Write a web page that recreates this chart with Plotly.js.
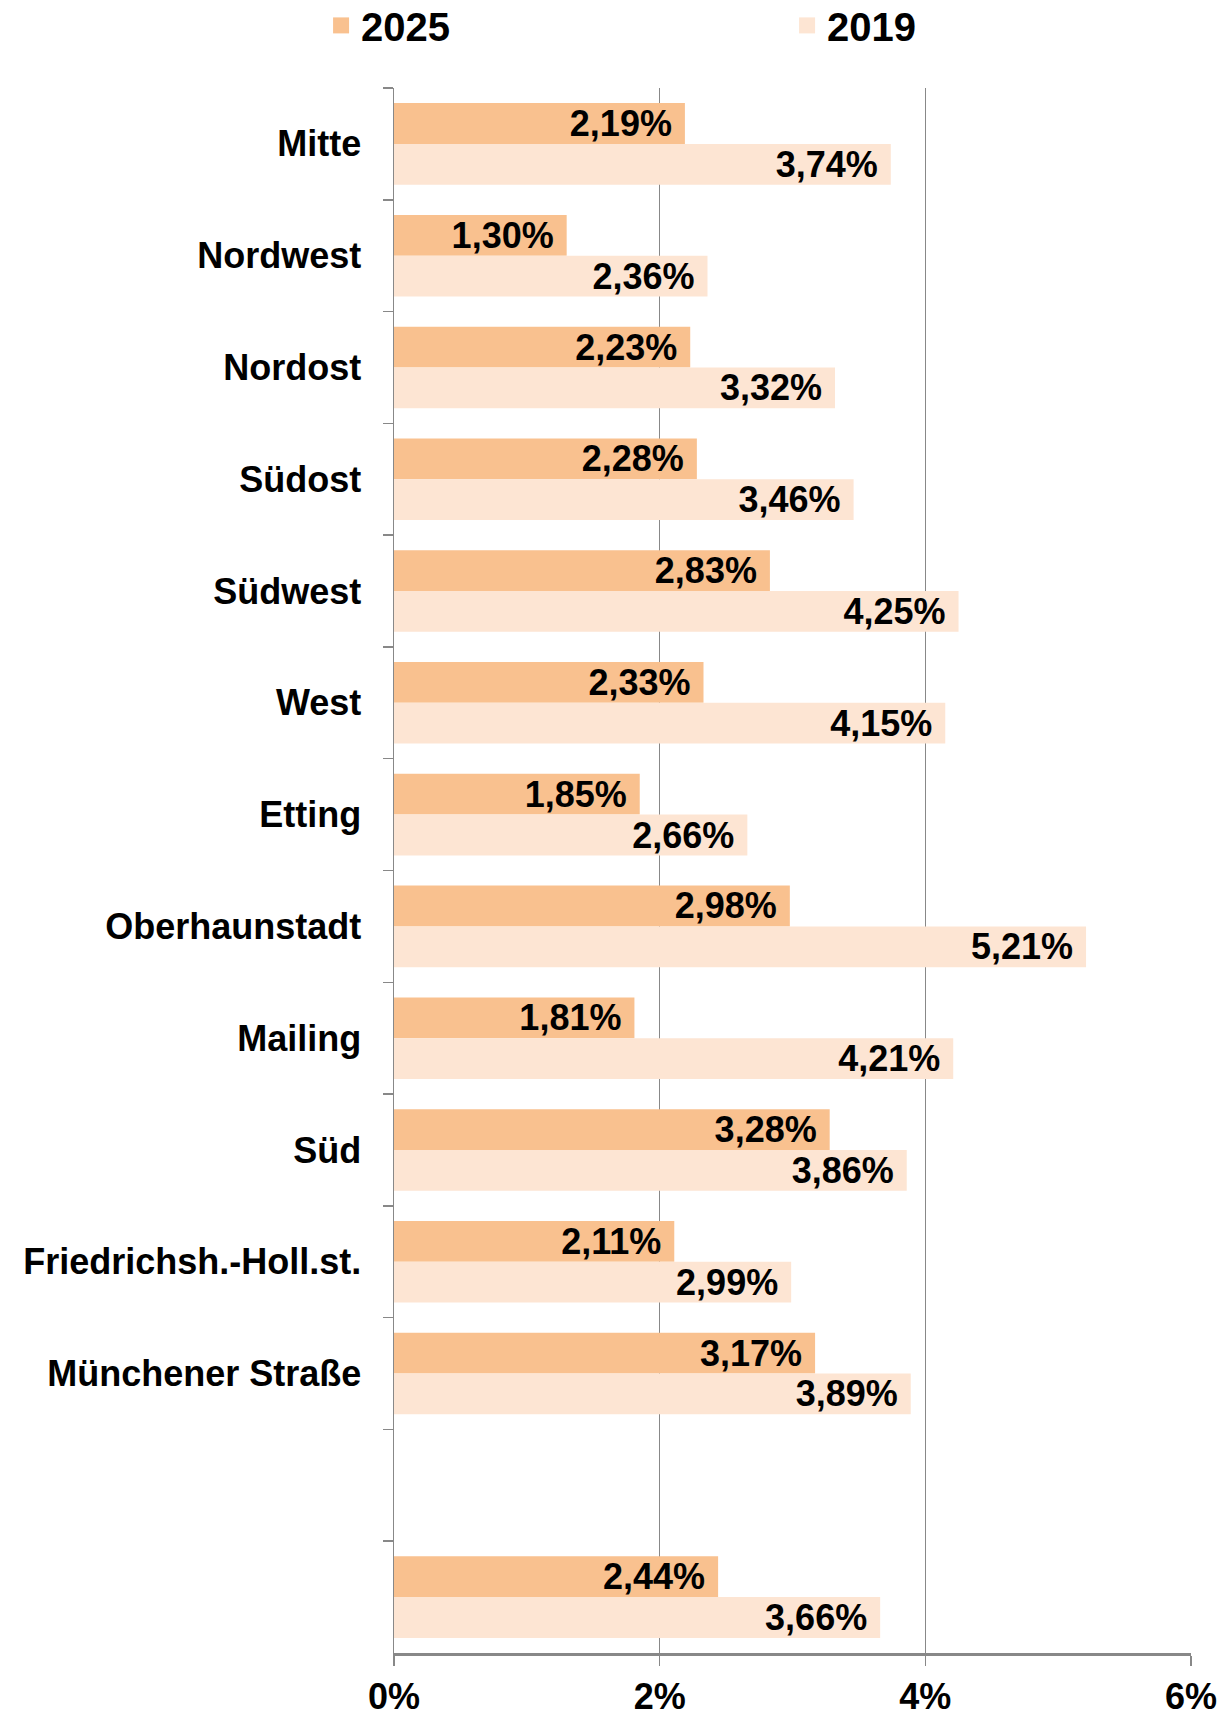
<!DOCTYPE html>
<html>
<head>
<meta charset="utf-8">
<script src="https://cdn.plot.ly/plotly-3.0.1.min.js"></script>
<style>html,body{margin:0;padding:0;background:#fff;}</style>
</head>
<body>
<div id="chart" style="width:1227px;height:1718px;"></div>
<script>
const categories = ["Mitte","Nordwest","Nordost","Südost","Südwest","West","Etting","Oberhaunstadt","Mailing","Süd","Friedrichsh.-Holl.st.","Münchener Straße"," ","  "];
const values2025 = [2.19,1.30,2.23,2.28,2.83,2.33,1.85,2.98,1.81,3.28,2.11,3.17,null,2.44];
const values2019 = [3.74,2.36,3.32,3.46,4.25,4.15,2.66,5.21,4.21,3.86,2.99,3.89,null,3.66];
const seriesNames = ["2025","2019"];
const xTickValues = [0,2,4,6];
const xTickLabels = ["0%","2%","4%","6%"];

const colors = ["#F9C18F","#FDE5D3"];
const FONT = "Arial, 'Liberation Sans', sans-serif";

function barTrace(name, vals, color){
  return {
    type:"bar", orientation:"h", name:name,
    y:categories, x:vals,
    marker:{color:color, line:{width:0}},
    texttemplate:"%{x:.2f}%\u00a0",
    textposition:"inside", insidetextanchor:"end",
    constraintext:"none",
    insidetextfont:{family:FONT, size:36, color:"#000", weight:"bold"},
    showlegend:false, hoverinfo:"x+y"
  };
}
function legendTrace(name, color){
  return {type:"scatter", mode:"markers", name:name, x:[null], y:[null],
    marker:{symbol:"square", size:20, color:color}, showlegend:true, hoverinfo:"skip"};
}

const data = [
  barTrace(seriesNames[0], values2025, colors[0]),
  barTrace(seriesNames[1], values2019, colors[1]),
  legendTrace(seriesNames[0], colors[0]),
  legendTrace(seriesNames[1], colors[1])
];

const layout = {
  width:1227, height:1718,
  margin:{l:394, r:36, t:88, b:65, autoexpand:false},
  paper_bgcolor:"#fff", plot_bgcolor:"#fff",
  barmode:"group", bargap:0.27, bargroupgap:0,
  separators:",.",
  font:{family:FONT, size:36, color:"#000", weight:"bold"},
  showlegend:true,
  legend:{orientation:"h", x:-0.0915, xanchor:"left", y:1.04, yanchor:"middle",
    font:{family:FONT, size:40, color:"#000", weight:"bold"},
    entrywidth:421, entrywidthmode:"pixels", itemsizing:"trace"},
  xaxis:{range:[0,6], tickmode:"array", tickvals:xTickValues, ticktext:xTickLabels, showgrid:true,
    gridcolor:"#888", gridwidth:1.5, zeroline:false,
    showline:true, linecolor:"#888", linewidth:2.5,
    ticks:"outside", ticklen:10, tickcolor:"#888", tickwidth:1.5,
    tickfont:{family:FONT, size:36, color:"#000", weight:"bold"},
    fixedrange:true},
  yaxis:{type:"category", categoryorder:"array", categoryarray:categories,
    autorange:"reversed", showgrid:false, zeroline:false,
    showline:true, linecolor:"#888", linewidth:1.5,
    ticks:"outside", tickson:"boundaries", ticklen:10, tickcolor:"#888", tickwidth:1.5,
    ticklabelstandoff:24,
    tickfont:{family:FONT, size:36, color:"#000", weight:"bold"},
    fixedrange:true}
};

Plotly.newPlot("chart", data, layout, {displayModeBar:false, staticPlot:true});
</script>
</body>
</html>
